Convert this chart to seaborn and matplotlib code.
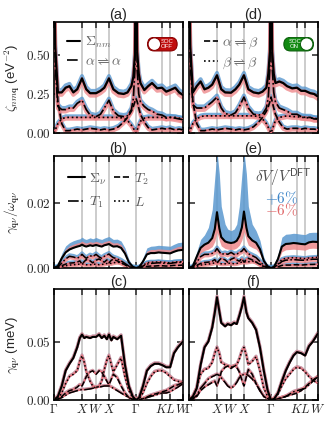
import matplotlib
matplotlib.use('Agg')
import matplotlib.pyplot as plt
import seaborn as sns
from matplotlib.lines import Line2D
from matplotlib.patches import FancyBboxPatch, Circle
from matplotlib.ticker import FormatStrFormatter
from matplotlib.transforms import offset_copy

sns.set_style('ticks')
plt.rcParams['font.family'] = ['Liberation Sans', 'DejaVu Sans']
plt.rcParams['mathtext.fontset'] = 'cm'
plt.rcParams['axes.linewidth'] = 1.2

# --- high-symmetry path -------------------------------------------------
path_pos = [0, 0.217, 0.326, 0.426, 0.636, 0.837, 0.9, 1.0]
path_labels = [r'$\Gamma$', '$X$', '$W$', '$X$', r'$\Gamma$', '$K$', '$L$', '$W$']

# --- row 1: zeta_nmq (eV^-2) -------------------------------------------
k_zeta = [0, 0.01, 0.03, 0.06, 0.09, 0.12, 0.15, 0.18, 0.217, 0.25, 0.28, 0.326,
          0.36, 0.39, 0.426, 0.46, 0.50, 0.54, 0.57, 0.60, 0.615, 0.627, 0.636,
          0.645, 0.657, 0.67, 0.70, 0.73, 0.76, 0.80, 0.837, 0.87, 0.9, 0.94, 0.97, 1.0]

sigma_a = [1.2, 0.55, 0.26, 0.26, 0.29, 0.30, 0.26, 0.28, 0.35, 0.28, 0.255, 0.255,
           0.27, 0.29, 0.35, 0.28, 0.255, 0.25, 0.26, 0.30, 0.36, 0.50, 1.2,
           0.52, 0.38, 0.32, 0.275, 0.30, 0.32, 0.286, 0.29, 0.265, 0.275, 0.29, 0.26, 0.243]
aa_a = [1.2, 0.42, 0.17, 0.15, 0.15, 0.16, 0.16, 0.19, 0.21, 0.15, 0.115, 0.105,
        0.12, 0.16, 0.21, 0.14, 0.11, 0.105, 0.11, 0.15, 0.22, 0.40, 1.2,
        0.40, 0.25, 0.20, 0.17, 0.15, 0.14, 0.12, 0.115, 0.10, 0.10, 0.095, 0.09, 0.085]
ab_a = [1.2, 0.5, 0.2, 0.06, 0.015, 0.015, 0.02, 0.025, 0.02, 0.025, 0.03, 0.025,
        0.02, 0.025, 0.02, 0.025, 0.04, 0.07, 0.10, 0.14, 0.17, 0.20, 0.22,
        0.20, 0.16, 0.12, 0.07, 0.035, 0.02, 0.025, 0.03, 0.025, 0.03, 0.02, 0.025, 0.02]
bb_a = [0.0, 0.02, 0.06, 0.09, 0.10, 0.10, 0.10, 0.10, 0.10, 0.10, 0.10, 0.10,
        0.10, 0.10, 0.10, 0.10, 0.10, 0.095, 0.08, 0.05, 0.03, 0.015, 0.0,
        0.02, 0.05, 0.075, 0.095, 0.10, 0.10, 0.10, 0.10, 0.095, 0.10, 0.10, 0.095, 0.09]

sigma_d = [1.2, 0.55, 0.26, 0.30, 0.33, 0.28, 0.29, 0.31, 0.37, 0.28, 0.26, 0.258,
           0.28, 0.31, 0.37, 0.28, 0.26, 0.254, 0.265, 0.29, 0.38, 0.52, 1.2,
           0.52, 0.38, 0.32, 0.33, 0.32, 0.30, 0.286, 0.29, 0.27, 0.27, 0.255, 0.25, 0.233]
aa_d = [1.2, 0.45, 0.18, 0.16, 0.16, 0.16, 0.18, 0.20, 0.23, 0.16, 0.125, 0.115,
        0.13, 0.17, 0.23, 0.16, 0.12, 0.115, 0.12, 0.16, 0.23, 0.42, 1.2,
        0.42, 0.26, 0.20, 0.16, 0.15, 0.14, 0.12, 0.12, 0.105, 0.10, 0.10, 0.09, 0.09]
ab_d = [1.2, 0.5, 0.2, 0.06, 0.015, 0.015, 0.02, 0.025, 0.02, 0.025, 0.03, 0.025,
        0.02, 0.025, 0.02, 0.025, 0.04, 0.07, 0.10, 0.14, 0.17, 0.20, 0.23,
        0.20, 0.16, 0.12, 0.07, 0.035, 0.025, 0.03, 0.03, 0.025, 0.03, 0.025, 0.025, 0.02]
bb_d = [0.0, 0.02, 0.06, 0.09, 0.105, 0.11, 0.11, 0.11, 0.11, 0.11, 0.11, 0.11,
        0.11, 0.11, 0.11, 0.11, 0.11, 0.105, 0.09, 0.06, 0.035, 0.015, 0.0,
        0.02, 0.05, 0.08, 0.10, 0.105, 0.11, 0.105, 0.105, 0.10, 0.10, 0.095, 0.095, 0.09]

# --- rows 2 and 3: gamma/omega and gamma (meV) -------------------------
k_path = [0, 0.03, 0.06, 0.09, 0.12, 0.15, 0.18, 0.20, 0.217, 0.235, 0.25, 0.28, 0.30,
          0.326, 0.35, 0.37, 0.39, 0.41, 0.426, 0.445, 0.46, 0.49, 0.52, 0.55, 0.58,
          0.61, 0.636, 0.66, 0.69, 0.72, 0.75, 0.78, 0.81, 0.837, 0.87, 0.9, 0.93, 0.96, 1.0]

sigma_b = [0, 0.0006, 0.003, 0.0048, 0.0057, 0.0062, 0.0066, 0.0068, 0.0072, 0.0068, 0.0066,
           0.007, 0.0068, 0.0071, 0.0068, 0.0066, 0.007, 0.0072, 0.0074, 0.0069, 0.0066, 0.0067,
           0.0062, 0.0045, 0.0018, 0.0004, 0.0, 0.0003, 0.002, 0.0042, 0.0046, 0.0046, 0.0048,
           0.0047, 0.0046, 0.0045, 0.005, 0.0054, 0.0056]
sigma_b_plus = [0, 0.001, 0.0045, 0.0068, 0.0078, 0.0084, 0.0088, 0.009, 0.0095, 0.009, 0.0088,
                0.0093, 0.009, 0.0094, 0.009, 0.0088, 0.0092, 0.0095, 0.0097, 0.0092, 0.0088, 0.0089,
                0.0083, 0.0062, 0.0027, 0.0007, 0.0, 0.0005, 0.0032, 0.0062, 0.0067, 0.0068, 0.007,
                0.0069, 0.0068, 0.0067, 0.0073, 0.0078, 0.008]
sigma_b_minus = [0, 0.0008, 0.0038, 0.0058, 0.0068, 0.0073, 0.0077, 0.0079, 0.0083, 0.0079, 0.0077,
                 0.0081, 0.0079, 0.0082, 0.0079, 0.0077, 0.0081, 0.0083, 0.0085, 0.008, 0.0077, 0.0078,
                 0.0072, 0.0053, 0.0022, 0.0005, 0.0, 0.0004, 0.0026, 0.0052, 0.0057, 0.0057, 0.0059,
                 0.0058, 0.0057, 0.0056, 0.0061, 0.0066, 0.0068]
t1_b = [0, 0.0003, 0.0015, 0.0028, 0.0036, 0.0034, 0.003, 0.0035, 0.0042, 0.0035, 0.003,
        0.0038, 0.0035, 0.0042, 0.0034, 0.003, 0.0036, 0.004, 0.0043, 0.0036, 0.0032, 0.0028,
        0.0022, 0.0014, 0.0006, 0.0002, 0, 0.0001, 0.0006, 0.0012, 0.0014, 0.0015, 0.0016,
        0.0015, 0.0014, 0.0014, 0.0016, 0.0017, 0.0018]
t2_b = [0, 0.0002, 0.0007, 0.0012, 0.0015, 0.0016, 0.0018, 0.0022, 0.0012, 0.002, 0.0026,
        0.0022, 0.0016, 0.0024, 0.0028, 0.0022, 0.0018, 0.0025, 0.0016, 0.0024, 0.0027, 0.0022,
        0.0016, 0.001, 0.0004, 0.0001, 0, 0.0001, 0.0003, 0.0005, 0.0006, 0.0006, 0.0007,
        0.0007, 0.0006, 0.0007, 0.0008, 0.0008, 0.0009]
l_b = [0, 0.0001, 0.0004, 0.0007, 0.0009, 0.001, 0.0011, 0.0012, 0.0013, 0.0011, 0.001,
       0.001, 0.0011, 0.0012, 0.001, 0.0011, 0.0012, 0.0014, 0.0015, 0.0014, 0.0016, 0.0018,
       0.0016, 0.001, 0.0004, 0.0001, 0, 0.0002, 0.0008, 0.0016, 0.0018, 0.0018, 0.0019,
       0.0018, 0.0017, 0.0016, 0.0018, 0.0019, 0.002]

sigma_e = [0, 0.0006, 0.0035, 0.0062, 0.0072, 0.0078, 0.0092, 0.012, 0.0172, 0.0122, 0.0095,
           0.0082, 0.0079, 0.0077, 0.0079, 0.0084, 0.0098, 0.0125, 0.0174, 0.0124, 0.0098, 0.0085,
           0.0078, 0.0058, 0.0022, 0.0005, 0, 0.0004, 0.0028, 0.0066, 0.0074, 0.0075, 0.0077,
           0.0076, 0.0074, 0.0073, 0.0079, 0.0081, 0.008]
sigma_e_plus = [0, 0.001, 0.005, 0.0088, 0.0102, 0.0125, 0.018, 0.028, 0.036, 0.029, 0.019,
                0.0135, 0.012, 0.0115, 0.012, 0.0135, 0.019, 0.029, 0.036, 0.029, 0.019, 0.0135,
                0.0115, 0.0085, 0.0033, 0.0008, 0, 0.0006, 0.0042, 0.0095, 0.0104, 0.0105, 0.0107,
                0.0106, 0.0104, 0.0103, 0.0109, 0.011, 0.011]
sigma_e_minus = [0, 0.0004, 0.0024, 0.0046, 0.0054, 0.0058, 0.0066, 0.0082, 0.011, 0.0085, 0.0068,
                 0.006, 0.0058, 0.0057, 0.0058, 0.0062, 0.007, 0.0086, 0.0112, 0.0086, 0.007, 0.0063,
                 0.0058, 0.0043, 0.0016, 0.0003, 0, 0.0003, 0.0021, 0.005, 0.0056, 0.0057, 0.0058,
                 0.0057, 0.0056, 0.0055, 0.006, 0.0061, 0.006]
t1_e = [0, 0.0003, 0.0018, 0.0035, 0.0042, 0.0042, 0.0045, 0.005, 0.006, 0.005, 0.0042,
        0.0045, 0.0042, 0.0048, 0.0042, 0.0042, 0.0048, 0.0052, 0.006, 0.005, 0.0044, 0.0038,
        0.0032, 0.002, 0.0008, 0.0002, 0, 0.0002, 0.001, 0.002, 0.0024, 0.0025, 0.0026,
        0.0025, 0.0024, 0.0024, 0.0026, 0.0027, 0.0027]
t2_e = [0, 0.0002, 0.0008, 0.0014, 0.0017, 0.0018, 0.0021, 0.0026, 0.0015, 0.0024, 0.003,
        0.0025, 0.0018, 0.0027, 0.0031, 0.0025, 0.0021, 0.0029, 0.0018, 0.0027, 0.003, 0.0025,
        0.0018, 0.0011, 0.0004, 0.0001, 0, 0.0001, 0.0004, 0.0008, 0.0009, 0.0009, 0.001,
        0.001, 0.0009, 0.001, 0.0011, 0.0011, 0.0012]
l_e = [0, 0.0001, 0.0005, 0.0009, 0.0011, 0.0012, 0.0014, 0.0016, 0.0018, 0.0015, 0.0013,
       0.0013, 0.0014, 0.0015, 0.0013, 0.0014, 0.0016, 0.0018, 0.002, 0.0018, 0.0019, 0.0021,
       0.0019, 0.0012, 0.0005, 0.0001, 0, 0.0002, 0.0012, 0.0026, 0.003, 0.0031, 0.0032,
       0.0031, 0.003, 0.0029, 0.0031, 0.0032, 0.0033]

sigma_c = [0, 0.003, 0.012, 0.025, 0.031, 0.036, 0.045, 0.053, 0.056, 0.053, 0.054,
           0.053, 0.054, 0.054, 0.056, 0.053, 0.055, 0.052, 0.056, 0.051, 0.054, 0.052,
           0.055, 0.03, 0.012, 0.003, 0, 0.002, 0.012, 0.025, 0.029, 0.031, 0.031,
           0.030, 0.028, 0.028, 0.04, 0.045, 0.05]
l_c = [0, 0.001, 0.006, 0.014, 0.02, 0.022, 0.025, 0.033, 0.038, 0.032, 0.024,
       0.016, 0.012, 0.01, 0.012, 0.016, 0.026, 0.034, 0.038, 0.03, 0.024, 0.03,
       0.036, 0.02, 0.008, 0.002, 0, 0.001, 0.006, 0.014, 0.02, 0.024, 0.025,
       0.025, 0.023, 0.02, 0.017, 0.016, 0.015]
t2_c = [0, 0.0005, 0.003, 0.006, 0.008, 0.009, 0.011, 0.013, 0.012, 0.016, 0.02,
        0.024, 0.025, 0.022, 0.025, 0.024, 0.02, 0.016, 0.013, 0.018, 0.022, 0.019,
        0.012, 0.006, 0.002, 0.0005, 0, 0.0003, 0.001, 0.0025, 0.004, 0.005, 0.006,
        0.007, 0.008, 0.01, 0.012, 0.013, 0.015]
t1_c = [0, 0.0008, 0.002, 0.004, 0.006, 0.007, 0.008, 0.0085, 0.009, 0.0088, 0.009,
        0.0095, 0.01, 0.011, 0.011, 0.0115, 0.012, 0.012, 0.012, 0.011, 0.01, 0.008,
        0.006, 0.004, 0.002, 0.0005, 0, 0.0003, 0.001, 0.002, 0.003, 0.004, 0.005,
        0.006, 0.006, 0.007, 0.009, 0.011, 0.014]

sigma_f = [0, 0.003, 0.01, 0.03, 0.045, 0.05, 0.062, 0.075, 0.088, 0.076, 0.066,
           0.063, 0.065, 0.064, 0.066, 0.065, 0.072, 0.08, 0.088, 0.075, 0.07, 0.066,
           0.06, 0.045, 0.025, 0.008, 0, 0.001, 0.006, 0.016, 0.025, 0.032, 0.038,
           0.041, 0.040, 0.038, 0.046, 0.05, 0.057]
l_f = [0, 0.002, 0.01, 0.022, 0.026, 0.027, 0.032, 0.04, 0.045, 0.04, 0.032,
       0.03, 0.029, 0.028, 0.029, 0.03, 0.035, 0.042, 0.045, 0.038, 0.03, 0.033,
       0.037, 0.025, 0.01, 0.003, 0, 0.001, 0.005, 0.012, 0.018, 0.022, 0.026,
       0.028, 0.027, 0.024, 0.02, 0.017, 0.014]
t2_f = [0, 0.0005, 0.003, 0.008, 0.011, 0.013, 0.015, 0.016, 0.012, 0.018, 0.024,
        0.028, 0.029, 0.027, 0.029, 0.028, 0.024, 0.017, 0.012, 0.02, 0.026, 0.022,
        0.014, 0.008, 0.003, 0.001, 0, 0.0003, 0.001, 0.002, 0.003, 0.004, 0.005,
        0.006, 0.008, 0.011, 0.014, 0.017, 0.02]
t1_f = [0, 0.001, 0.004, 0.01, 0.014, 0.018, 0.02, 0.021, 0.022, 0.021, 0.019,
        0.015, 0.012, 0.01, 0.012, 0.015, 0.019, 0.021, 0.022, 0.022, 0.021, 0.018,
        0.014, 0.008, 0.003, 0.001, 0, 0.0003, 0.001, 0.002, 0.003, 0.005, 0.007,
        0.008, 0.009, 0.01, 0.013, 0.016, 0.02]

BLUE = '#5a98cf'
RED = '#ee8a8c'
PINK = '#e5707a'
GRID = '#c4c4c4'

W, H = 332, 423
fig = plt.figure(figsize=(W / 100, H / 100), dpi=100)


def px_axes(x0, top, w, h):
    return fig.add_axes([x0 / W, (H - top - h) / H, w / W, h / H])


ax_a = px_axes(54, 22, 129, 111)
ax_d = px_axes(189, 22, 129, 111)
ax_b = px_axes(54, 156, 129, 112)
ax_e = px_axes(189, 156, 129, 112)
ax_c = px_axes(54, 289, 129, 111)
ax_f = px_axes(189, 289, 129, 111)


def banded_line(ax, x, y, ls, lw=1.2, up=1.4, down=1.4, band_lw=2.6, band_alpha=0.8):
    tr_up = offset_copy(ax.transData, fig=fig, x=0, y=up, units='points')
    tr_dn = offset_copy(ax.transData, fig=fig, x=0, y=-down, units='points')
    ax.plot(x, y, color=BLUE, lw=band_lw, alpha=band_alpha, transform=tr_up, zorder=1)
    ax.plot(x, y, color=RED, lw=band_lw, alpha=band_alpha, transform=tr_dn, zorder=2)
    ax.plot(x, y, color=PINK, lw=lw, zorder=3)
    sns.lineplot(x=x, y=y, ax=ax, color='k', linewidth=lw, linestyle=ls,
                 estimator=None, sort=False, zorder=4)


def filled_sigma(ax, x, y, y_plus, y_minus, lw=1.5):
    ax.fill_between(x, y, y_plus, color=BLUE, alpha=0.85, lw=0, zorder=1)
    ax.fill_between(x, y, y_minus, color=RED, alpha=0.85, lw=0, zorder=2)
    sns.lineplot(x=x, y=y, ax=ax, color='k', linewidth=lw, linestyle='-',
                 estimator=None, sort=False, zorder=5)


def style_axes(ax, ylim, yticks, left_labels, bottom_labels, title, fmt='%.2f'):
    ax.set_xlim(0, 1)
    ax.set_ylim(*ylim)
    for p in path_pos[1:-1]:
        ax.axvline(p, color=GRID, lw=1.2, zorder=0)
    ax.set_xticks(path_pos)
    ax.set_yticks(yticks)
    ax.yaxis.set_major_formatter(FormatStrFormatter('$' + fmt + '$'))
    ax.tick_params(direction='in', length=4, width=1.1, top=True, right=True,
                   labelsize=9.5, labelleft=left_labels, labelbottom=bottom_labels, pad=2)
    if bottom_labels:
        ax.set_xticklabels(path_labels, fontsize=9)
    ax.set_xlabel('')
    ax.set_ylabel('')
    ax.set_title(title, fontsize=10.5, pad=2.5)
    for s in ax.spines.values():
        s.set_linewidth(1.2)
        s.set_color('k')


def soc_switch(ax, rect, color, edge, on):
    sax = ax.inset_axes(rect)
    sax.set_xlim(0, 31)
    sax.set_ylim(0, 15)
    sax.axis('off')
    sax.add_patch(FancyBboxPatch((7.5, 7.5), 16, 0, boxstyle='round,pad=6.8',
                                 fc=color, ec=edge, lw=0.8))
    cx, tx = (23.5, 11.5) if on else (7.5, 20.0)
    sax.add_patch(Circle((cx, 7.5), 6.3, fc='white', ec=edge, lw=0.8))
    sax.text(tx, 7.3, 'SOC\nON' if on else 'SOC\nOFF', color='white', fontsize=4.3,
             ha='center', va='center', linespacing=0.95)


def leg(ax, handles, labels, **kw):
    opts = dict(loc='upper left', frameon=False, fontsize=10, handlelength=1.0,
                handletextpad=0.3, labelcolor='0.4')
    opts.update(kw)
    return ax.legend(handles, labels, **opts)


# --- (a) and (d) --------------------------------------------------------
for ax, sig, aa, ab, bb in [(ax_a, sigma_a, aa_a, ab_a, bb_a),
                            (ax_d, sigma_d, aa_d, ab_d, bb_d)]:
    banded_line(ax, k_zeta, bb, ':', lw=1.2, up=1.0, down=1.2, band_lw=2.4)
    banded_line(ax, k_zeta, ab, '--', lw=1.2, up=1.0, down=1.2, band_lw=2.4)
    banded_line(ax, k_zeta, aa, '-.', lw=1.2, up=1.2, down=1.4, band_lw=2.8)
    banded_line(ax, k_zeta, sig, '-', lw=1.6, up=1.7, down=1.8, band_lw=2.8)

style_axes(ax_a, (0, 0.711), [0, 0.25, 0.5], True, False, '(a)')
style_axes(ax_d, (0, 0.711), [0, 0.25, 0.5], False, False, '(d)')
ax_a.set_ylabel(r'$\zeta_{nm\mathbf{q}}$ (eV$^{-2}$)', fontsize=9.5, labelpad=3)

leg(ax_a, [Line2D([], [], color='k', lw=1.5, ls='-'),
           Line2D([], [], color='k', lw=1.2, ls='-.')],
    [r'$\Sigma_{nm}$', r'$\alpha \rightleftharpoons \alpha$'],
    labelspacing=0.3, borderaxespad=0.5, bbox_to_anchor=(0.0, 1.0))
leg(ax_d, [Line2D([], [], color='k', lw=1.2, ls='--'),
           Line2D([], [], color='k', lw=1.2, ls=':')],
    [r'$\alpha \rightleftharpoons \beta$', r'$\beta \rightleftharpoons \beta$'],
    labelspacing=0.3, borderaxespad=0.5, bbox_to_anchor=(0.02, 1.0))

soc_switch(ax_a, [0.72, 0.733, 0.24, 0.135], '#c00d0d', '#8a0000', on=False)
soc_switch(ax_d, [0.73, 0.733, 0.24, 0.135], '#128a12', '#0a5f0a', on=True)

# --- (b) and (e) --------------------------------------------------------
for ax, sig, sp, sm, t1, t2, ll in [(ax_b, sigma_b, sigma_b_plus, sigma_b_minus, t1_b, t2_b, l_b),
                                    (ax_e, sigma_e, sigma_e_plus, sigma_e_minus, t1_e, t2_e, l_e)]:
    banded_line(ax, k_path, ll, ':', lw=1.1, up=0.8, down=0.8, band_lw=2.0)
    banded_line(ax, k_path, t2, '--', lw=1.1, up=0.8, down=0.8, band_lw=2.0)
    banded_line(ax, k_path, t1, '-.', lw=1.1, up=1.0, down=1.0, band_lw=2.4)
    filled_sigma(ax, k_path, sig, sp, sm)

style_axes(ax_b, (0, 0.0345), [0, 0.02], True, False, '(b)')
style_axes(ax_e, (0, 0.0345), [0, 0.02], False, False, '(e)')
ax_b.set_ylabel(r'$\gamma_{\mathbf{q}\nu}/\omega_{\mathbf{q}\nu}$', fontsize=9.5, labelpad=3)

leg(ax_b, [Line2D([], [], color='k', lw=1.5, ls='-'),
           Line2D([], [], color='k', lw=1.2, ls='-.'),
           Line2D([], [], color='k', lw=1.2, ls='--'),
           Line2D([], [], color='k', lw=1.2, ls=':')],
    [r'$\Sigma_\nu$', r'$T_1$', r'$T_2$', r'$L$'],
    ncol=2, handlelength=1.2, labelspacing=0.6, columnspacing=0.5,
    borderaxespad=0.7, bbox_to_anchor=(-0.01, 1.0), labelcolor='0.35')

ax_e.text(0.73, 0.80, r'$\delta V/V^{\mathsf{DFT}}$', transform=ax_e.transAxes,
          ha='center', va='center', fontsize=11, color='0.3')
ax_e.text(0.72, 0.625, r'$+6\%$', transform=ax_e.transAxes, ha='center', va='center',
          fontsize=11, color='#3f86c8')
ax_e.text(0.72, 0.52, r'$-6\%$', transform=ax_e.transAxes, ha='center', va='center',
          fontsize=11, color='#e0686a')

# --- (c) and (f) --------------------------------------------------------
for ax, sig, t1, t2, ll in [(ax_c, sigma_c, t1_c, t2_c, l_c),
                            (ax_f, sigma_f, t1_f, t2_f, l_f)]:
    banded_line(ax, k_path, t1, '-.', lw=1.1, up=0.5, down=-0.6, band_lw=1.8, band_alpha=0.7)
    banded_line(ax, k_path, t2, '--', lw=1.1, up=0.5, down=-0.6, band_lw=1.8, band_alpha=0.7)
    banded_line(ax, k_path, ll, ':', lw=1.1, up=0.5, down=-0.6, band_lw=2.0, band_alpha=0.7)
    banded_line(ax, k_path, sig, '-', lw=1.5, up=0.6, down=-0.7, band_lw=2.2, band_alpha=0.7)

style_axes(ax_c, (0, 0.095), [0, 0.05], True, True, '(c)')
style_axes(ax_f, (0, 0.095), [0, 0.05], False, True, '(f)')
ax_c.set_ylabel(r'$\gamma_{\mathbf{q}\nu}$ (meV)', fontsize=9.5, labelpad=3)

fig.savefig('out.png', dpi=100)
